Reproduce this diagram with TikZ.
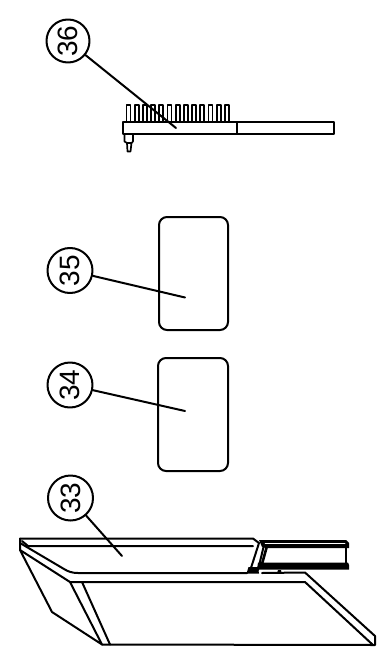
\documentclass[tikz,border=0pt]{standalone}
\usepackage{fontspec}
\setmainfont{Liberation Sans}
\begin{document}
\begin{tikzpicture}[x=1pt,y=-1pt,line join=round,line cap=round,
  ink/.style={draw=black,line width=2pt},
  thinink/.style={draw=black,line width=1.7pt},
  callout/.style={circle,draw=black,line width=2pt,minimum size=45pt,inner sep=0pt,font=\fontsize{28}{28}\selectfont,rotate=90},
  pad/.style={draw=black,line width=2pt,rounded corners=8pt}]
\useasboundingbox[fill=white] (0,0) rectangle (382,652);
% callouts
\node[callout,minimum size=43pt] (c36) at (68,41) {36};
\node[callout] (c35) at (70,270.5) {35};
\node[callout] (c34) at (70,385) {34};
\node[callout] (c33) at (70.5,498) {33};
\coordinate (t36) at (176,128);
\coordinate (t35) at (185,297.5);
\coordinate (t34) at (185,411);
\coordinate (t33) at (122,556);
% part 36
\draw[ink] (122.7,121.7) rectangle (236.7,134);
\draw[ink] (236.7,122) rectangle (334,134);
\draw[thinink] (126.5,121.7) foreach \i in {0,...,12} { -- ++(0,-17) -- ++(4,0) -- ++(0,17) -- ++(4.2,0)};
\draw[thinink] (124.5,134) -- (124.5,141.5) -- (127,143) -- (127.5,151.5) -- (130.5,151.5) -- (131.5,143) -- (133,141.5) -- (133,134);
\draw[thinink] (127,143) -- (131.5,143);
% pads
\draw[pad] (159,217) rectangle (228,330);
\draw[pad] (158,358) rectangle (228,471);
% part 33
\draw[ink] (20,538.5) -- (253,538.5) -- (259,543);
\draw[ink] (22,541) -- (28,546) -- (253,546);
\draw[ink] (20,538.5) -- (20,550) -- (70,582) -- (305,582) -- (373,645);
\draw[ink] (20,543) -- (64,569) .. controls (68,571.5) and (72,573) .. (78,573) -- (247,573);
\draw[ink] (262,573) -- (305,572.5) -- (375,636) -- (375,645) -- (102,644.5);
\draw[ink] (20,550) -- (52,612) -- (102,644.5) -- (70,582);
\draw[ink] (82,582) -- (110,644.5);
% bracket
\draw[ink] (259,543) -- (250,571);
\draw[ink] (264,545) -- (258,570);
\fill[black] (246.5,573.5) -- (248.5,567) -- (258,567) -- (259,573.5) -- cycle;
\fill[black] (259,540) -- (346,540) -- (349,543) -- (349,548) -- (266,548) -- (262,547) -- cycle;
\draw[white,line width=.5pt] (265,543.6) -- (345,543.6);
\fill[black] (258,562.5) -- (348,562.5) -- (349,565) -- (349,569.5) -- (257,569.5) -- cycle;
\draw[ink,line width=2.6pt] (267,546) -- (262,564);
\draw[ink] (346,546) -- (346,564);
\fill[black] (277,573) -- (278,570) -- (281,570) -- (281.5,573) -- cycle;
% leaders
\draw[ink] (c36) -- (t36);
\draw[ink] (c35) -- (t35);
\draw[ink] (c34) -- (t34);
\draw[ink] (c33) -- (t33);
\end{tikzpicture}
\end{document}
